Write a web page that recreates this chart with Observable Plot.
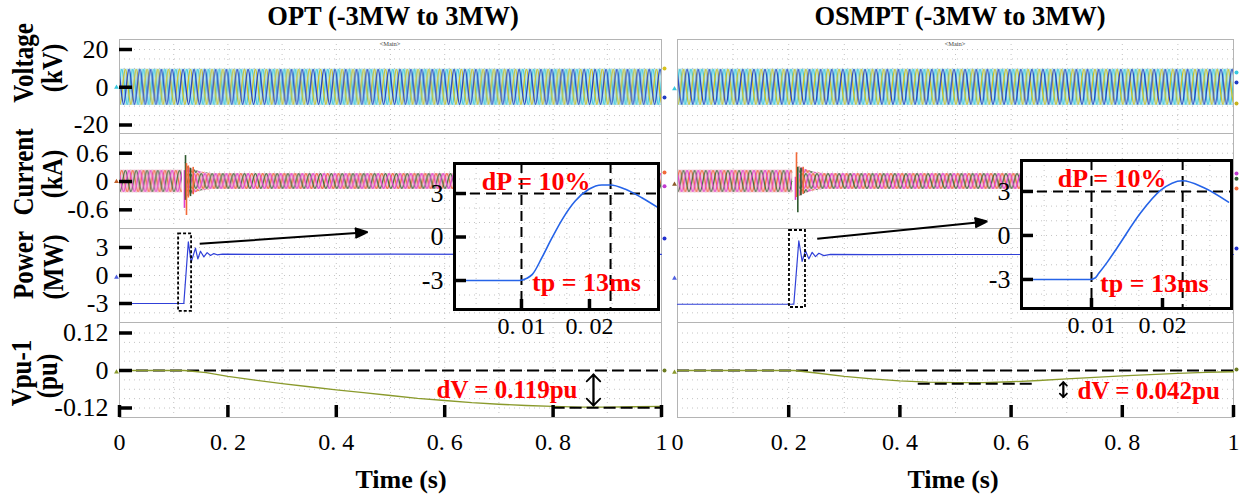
<!DOCTYPE html>
<html>
<head>
<meta charset="utf-8">
<script src="https://cdn.jsdelivr.net/npm/d3@7"></script>
<script src="https://cdn.jsdelivr.net/npm/@observablehq/plot@0.6"></script>
<style>
  html, body { margin: 0; padding: 0; background: #ffffff; }
  #chart { position: relative; width: 1243px; height: 499px; overflow: hidden; background: #fff; }
  #chart svg.abs { position: absolute; }
</style>
</head>
<body>
<div id="chart"></div>
<svg width="0" height="0" style="position:absolute;left:0;top:0"><defs id="patdefs"></defs></svg>
<script>
// ================= DATA =================
const timeTicks = [0, 0.2, 0.4, 0.6, 0.8, 1];
const timeTickText = ["0", "0. 2", "0. 4", "0. 6", "0. 8", "1"];
const timeGrid = [0.1, 0.2, 0.3, 0.4, 0.5, 0.6, 0.7, 0.8, 0.9];

const voltageTicks = [20, 0, -20];
const voltageTickText = ["20", "0", "-20"];
const currentTicks = [0.6, 0, -0.6];
const currentTickText = ["0.6", "0", "-0.6"];
const powerTicks = [3, 0, -3];
const powerTickText = ["3", "0", "-3"];
const vpuTicks = [0.12, 0, -0.12];
const vpuTickText = ["0.12", "0", "-0.12"];

const voltageGrid = [-20, -15, -10, -5, 0, 5, 10, 15, 20];
const currentGrid = [-0.8, -0.6, -0.4, -0.2, 0, 0.2, 0.4, 0.6, 0.8];
const powerGrid = [-4, -3, -2, -1, 0, 1, 2, 3, 4];
const vpuGrid = [-0.12, -0.09, -0.06, -0.03, 0, 0.03, 0.06, 0.09, 0.12];

// three-phase 50 Hz waveforms: envelope (amplitude)
const cyclesPerSecond = 50;
const voltEnvTime = [0, 1];
const voltEnvOPT = [9.6, 9.6];        // kV
const voltEnvOSMPT = [9.6, 9.6];      // kV

const curPreTimeOPT = [0, 0.116];
const curPreAmpOPT = [0.24, 0.24];    // kA
const curPostTimeOPT = [0.125, 0.135, 0.15, 0.17, 1];
const curPostAmpOPT = [0.32, 0.26, 0.2, 0.17, 0.17];
const curPreTimeOSMPT = [0, 0.207];
const curPreAmpOSMPT = [0.24, 0.24];
const curPostTimeOSMPT = [0.219, 0.229, 0.244, 0.262, 1];
const curPostAmpOSMPT = [0.32, 0.26, 0.2, 0.17, 0.17];

// current transient spikes (time, low, high, phase)
const spikeTimeOPT = [0.1199, 0.1218, 0.1236, 0.127, 0.131, 0.136];
const spikeLowOPT = [-0.57, -0.40, -0.72, -0.35, -0.32, -0.28];
const spikeHighOPT = [0.23, 0.55, 0.38, 0.33, 0.28, 0.30];
const spikePhaseOPT = ["a", "c", "b", "b", "c", "b"];
const spikeTimeOSMPT = [0.2122, 0.2140, 0.2164, 0.222, 0.226];
const spikeLowOSMPT = [-0.40, -0.34, -0.66, -0.30, -0.27];
const spikeHighOSMPT = [0.09, 0.61, 0.30, 0.28, 0.30];
const spikePhaseOSMPT = ["a", "b", "c", "c", "b"];

// active power (MW)
const powerTimeOPT = [0, 0.1187, 0.127, 0.1322, 0.1402, 0.1445, 0.1494, 0.1556, 0.1617, 0.1679, 0.174, 0.1802, 0.19, 0.3, 0.5, 0.7, 1];
const powerOPT = [-3, -3, 3.6, 1.42, 2.94, 1.77, 2.6, 2.0, 2.45, 2.15, 2.35, 2.22, 2.28, 2.26, 2.28, 2.27, 2.27];
const powerTimeOSMPT = [0, 0.2092, 0.2182, 0.2242, 0.2302, 0.2362, 0.2422, 0.2482, 0.2542, 0.2632, 0.2752, 0.35, 0.5, 0.7, 1];
const powerOSMPT = [-3.08, -3.08, 3.72, 1.52, 2.66, 1.78, 2.48, 2.02, 2.38, 2.13, 2.27, 2.24, 2.25, 2.25, 2.25];

// zoom-window (dotted box) around the step: [t0, t1, p0, p1]
const zoomBoxOPT = [0.109, 0.133, -3.85, 4.47];
const zoomBoxOSMPT = [0.2014, 0.2302, -3.43, 4.82];
// pointer arrow from box to inset: [t1, p1, t2, p2]
const zoomArrowOPT = [0.148, 3.4, 0.4576, 4.64];
const zoomArrowOSMPT = [0.2513, 3.93, 0.557, 5.79];

// Vpu - 1 (pu)
const vpuTimeOPT = [0, 0.12, 0.16, 0.2, 0.25, 0.3, 0.35, 0.4, 0.45, 0.5, 0.55, 0.6, 0.65, 0.7, 0.75, 0.8, 0.85, 0.9, 0.95, 1];
const vpuOPT = [0, 0, -0.007, -0.019, -0.031, -0.042, -0.052, -0.062, -0.071, -0.080, -0.089, -0.096, -0.103, -0.108, -0.112, -0.115, -0.117, -0.117, -0.116, -0.115];
const vpuTimeOSMPT = [0, 0.21, 0.25, 0.3, 0.35, 0.4, 0.45, 0.5, 0.55, 0.6, 0.65, 0.7, 0.75, 0.8, 0.85, 0.9, 0.95, 1];
const vpuOSMPT = [0, 0, -0.008, -0.019, -0.027, -0.033, -0.037, -0.039, -0.039, -0.036, -0.032, -0.027, -0.022, -0.017, -0.013, -0.009, -0.006, -0.004];

// voltage deviation markers
const dvOPT = {value: -0.119, t1: 0.80, t2: 1.0, arrowT: 0.8745, arrowTop: -0.0128, arrowBottom: -0.112, labelT: 0.845, labelV: -0.0608, text: "dV = 0.119pu"};
const dvOSMPT = {value: -0.042, t1: 0.433, t2: 0.640, arrowT: 0.694, arrowTop: -0.0374, arrowBottom: -0.0854, labelT: 0.7194, labelV: -0.064, text: "dV = 0.042pu"};

// PSCAD trace end markers (value of each trace at the panel edges)
const edgeMarkersOPT = {
  V: {left: [0], right: [9.9, -5.4]},
  I: {left: [0], right: [0.19, -0.1]},
  P: {left: [-0.2], right: [3.96]},
  U: {left: [-0.005], right: [0]}
};
const edgeMarkersOSMPT = {
  V: {left: [-0.8], right: [7.8, 2.5, -8.6]},
  I: {left: [-0.06], right: [0.17, 0.06, -0.15]},
  P: {left: [-0.3], right: [2.9]},
  U: {left: [-0.006], right: [0.003]}
};

// inset (zoom of the power step)
const insetTimeTicks = [0.01, 0.02];
const insetTimeTickText = ["0. 01", "0. 02"];
const insetPowerTicks = [3, 0, -3];
const insetPowerTickText = ["3", "0", "-3"];
const insetGridTime = [0.00333, 0.00667, 0.01, 0.01333, 0.01667, 0.02, 0.02333, 0.02667];
const insetGridPower = [-4, -3, -2, -1, 0, 1, 2, 3, 4];
const insetDPLevel = 3;
const insetTimeOPT = [0.0005, 0.006, 0.0097, 0.0108, 0.0116, 0.0130, 0.0145, 0.0160, 0.0179, 0.0199, 0.0218, 0.0231, 0.0253, 0.0277, 0.0301];
const insetPowerOPT = [-3.0, -3.0, -3.0, -2.85, -2.58, -1.43, -0.05, 1.22, 2.48, 3.29, 3.59, 3.59, 3.29, 2.71, 2.02];
const insetTimeOSMPT = [0.0005, 0.006, 0.0098, 0.0105, 0.0110, 0.01225, 0.01366, 0.0169, 0.01972, 0.02282, 0.02577, 0.0293];
const insetPowerOSMPT = [-3.0, -3.0, -3.0, -2.9, -2.6, -1.8, -0.8, 1.53, 3.07, 3.73, 3.27, 2.27];
const insetPeakTimeOPT = 0.0231;
const insetPeakTimeOSMPT = 0.02284;
const insetLabelsOPT = {dp: {t: 0.01215, p: 3.85, text: "dP = 10%"}, tp: {t: 0.01156, p: -3.12, text: "tp = 13ms"}};
const insetLabelsOSMPT = {dp: {t: 0.0129, p: 3.84, text: "dP = 10%"}, tp: {t: 0.0112, p: -3.29, text: "tp = 13ms"}};

// ================= LAYOUT & STYLE =================
const chart = document.getElementById("chart");
const FONT = "'Liberation Serif', 'Times New Roman', serif";
const STYLE = `background: transparent; overflow: visible; font-family: ${FONT};`;
const COL = {OPT: {x0: 119, x1: 661}, OSMPT: {x0: 677, x1: 1233}};
const ROW = {V: [39, 133], I: [133, 228], P: [228, 322], U: [322, 417]};
const DOM = {V: [-24.5, 25.3], I: [-0.996, 1.018], P: [-5.036, 5.036], U: [-0.1504, 0.1536]};
const FRAME = {stroke: "#b4b4b4", strokeWidth: 1};
const GRID = {stroke: "#c4c4c4", strokeWidth: 1, strokeDasharray: "1,4"};
const TICK = {stroke: "#000", strokeWidth: 3.5};
const DASH = {stroke: "#000", strokeWidth: 2, strokeDasharray: "12,5"};
const IDASH = {stroke: "#000", strokeWidth: 2, strokeDasharray: "10,6"};
const PHASE_I = {a: "#e03ccf", b: "#f26a3a", c: "#2f5a2f"};
const V_COLORS = ["#3cc6dc", "#d2be1e", "#2440c0"];
const I_COLORS = ["#f26a3a", "#3a6e3a", "#e03ccf"];
const MARK_COLORS = {
  OPT: {V: {left: ["#36c8de"], right: ["#d8c21c", "#1f3cc4"]}, I: {left: ["#c0602a"], right: ["#f26a3a", "#c03ad0"]}, P: {left: ["#5060e0"], right: ["#2030d0"]}, U: {left: ["#8a9a2c"], right: ["#6a7a20"]}},
  OSMPT: {V: {left: ["#36c8de"], right: ["#36c8de", "#1f3cc4", "#c8b21c"]}, I: {left: ["#8a5a2a"], right: ["#c03ad0", "#2f5a2f", "#f26a3a"]}, P: {left: ["#5060e0"], right: ["#2030d0"]}, U: {left: ["#8a9a2c"], right: ["#6a7a20"]}}
};
const NS = "http://www.w3.org/2000/svg";
const defs = document.getElementById("patdefs");

function place(svg, left, top) {
  svg.classList.add("abs");
  svg.style.left = left + "px";
  svg.style.top = top + "px";
  chart.appendChild(svg);
}

// decorative texture for the dense 50 Hz traces (pattern tile = one cycle)
function waveTexture(W, H, shift, pad) {
  const q = W / 4, mid = H / 2, A = H / 2 - pad;
  let x = -W + shift;
  let d = `M${x},${mid}`;
  for (let c = 0; c < 3; c++) {
    d += ` C${x + 0.326 * q},${mid - 0.5123 * A} ${x + 0.6376 * q},${mid - A} ${x + q},${mid - A}`; x += q;
    d += ` C${x + 0.3624 * q},${mid - A} ${x + 0.674 * q},${mid - 0.5123 * A} ${x + q},${mid}`; x += q;
    d += ` C${x + 0.326 * q},${mid + 0.5123 * A} ${x + 0.6376 * q},${mid + A} ${x + q},${mid + A}`; x += q;
    d += ` C${x + 0.3624 * q},${mid + A} ${x + 0.674 * q},${mid + 0.5123 * A} ${x + q},${mid}`; x += q;
  }
  return d;
}
function makePattern(id, x, y, w, h, colors, sw) {
  const p = document.createElementNS(NS, "pattern");
  p.setAttribute("id", id);
  p.setAttribute("patternUnits", "userSpaceOnUse");
  p.setAttribute("x", x); p.setAttribute("y", y);
  p.setAttribute("width", w); p.setAttribute("height", h);
  colors.forEach((c, k) => {
    const path = document.createElementNS(NS, "path");
    path.setAttribute("d", waveTexture(w, h, (k * w) / 3, 0.6));
    path.setAttribute("fill", "none");
    path.setAttribute("stroke", c);
    path.setAttribute("stroke-width", sw);
    p.appendChild(path);
  });
  defs.appendChild(p);
}

function panel(colKey, rowKey, marks, ml, mr, patterns) {
  const col = COL[colKey], row = ROW[rowKey], dom = DOM[rowKey];
  const w = col.x1 - col.x0, h = row[1] - row[0];
  const svg = Plot.plot({
    width: ml + w + mr, height: h,
    marginLeft: ml, marginRight: mr, marginTop: 0, marginBottom: 0,
    x: {domain: [0, 1], axis: null},
    y: {domain: dom, axis: null},
    color: {type: "identity"},
    style: STYLE,
    marks
  });
  if (patterns) {
    const py = (v) => ((dom[1] - v) / (dom[1] - dom[0])) * h;
    patterns.forEach(({key, id, amp, colors, sw}) => {
      makePattern(id, ml, py(amp), w / cyclesPerSecond, py(-amp) - py(amp), colors, sw);
      svg.querySelectorAll(`[fill="${key}"]`).forEach((el) => el.setAttribute("fill", `url(#${id})`));
    });
  }
  place(svg, col.x0 - ml, row[0]);
  return svg;
}

function band(times, amps, key, under) {
  const rows = times.map((t, i) => ({t, lo: -amps[i], hi: amps[i]}));
  return [
    Plot.areaY(rows, {x: "t", y1: "lo", y2: "hi", fill: under}),
    Plot.areaY(rows, {x: "t", y1: "lo", y2: "hi", fill: key})
  ];
}

function edgeMarks(colKey, rowKey, markers) {
  const m = markers[rowKey], c = MARK_COLORS[colKey][rowKey];
  const L = m.left.map((v, i) => ({v, c: c.left[i]}));
  const R = m.right.map((v, i) => ({v, c: c.right[i]}));
  return [
    Plot.dot(L, {x: () => 0, y: "v", dx: -3, r: 1.8, fill: "c", stroke: "none", symbol: "triangle"}),
    Plot.dot(R, {x: () => 1, y: "v", dx: 3, r: 2, fill: "c", stroke: "none"})
  ];
}

function yAxisMarks(colKey, ticks, texts) {
  const col = COL[colKey];
  return [
    Plot.ruleY(ticks, {y: (d) => d, x1: 0, x2: 13 / (col.x1 - col.x0), ...TICK}),
    Plot.text(ticks, {y: (d) => d, text: (d, i) => texts[i], frameAnchor: "left", textAnchor: "end", dx: -11, fontSize: 26, fill: "#000"})
  ];
}
function xAxisMarks(tickSet) {
  const dom = DOM.U, row = ROW.U;
  const pxY = (row[1] - row[0]) / (dom[1] - dom[0]);
  return [
    Plot.ruleX(tickSet, {x: (d) => d, y1: dom[0], y2: dom[0] + 12 / pxY, ...TICK}),
    Plot.text(timeTicks, {x: (d) => d, text: (d, i) => timeTickText[i], frameAnchor: "bottom", lineAnchor: "top", dy: 15, fontSize: 24, fill: "#000"})
  ];
}

function column(colKey, d) {
  const left = colKey === "OPT";
  const ml = left ? 119 : 12, mr = 12;
  // ---- Voltage ----
  panel(colKey, "V", [
    Plot.ruleX(timeGrid, GRID), Plot.ruleY(voltageGrid, GRID),
    ...band(voltEnvTime, d.voltEnv, "#fe0001", "#b9e7ee"),
    Plot.frame(FRAME),
    ...edgeMarks(colKey, "V", d.markers),
    ...(left ? yAxisMarks(colKey, voltageTicks, voltageTickText) : [])
  ], ml, mr, [{key: "#fe0001", id: "pv" + colKey, amp: d.voltEnv[0], colors: V_COLORS, sw: 1.35}]);
  // ---- Current ----
  const spikes = d.spikeTime.map((t, i) => ({t, lo: d.spikeLow[i], hi: d.spikeHigh[i], c: PHASE_I[d.spikePhase[i]]}));
  panel(colKey, "I", [
    Plot.ruleX(timeGrid, GRID), Plot.ruleY(currentGrid, GRID),
    ...band(d.curPreTime, d.curPreAmp, "#fe0002", "#f3c6d6"),
    ...band(d.curPostTime, d.curPostAmp, "#fe0003", "#f3c6d6"),
    Plot.ruleX(spikes, {x: "t", y1: "lo", y2: "hi", stroke: "c", strokeWidth: 1.6}),
    Plot.frame(FRAME),
    ...edgeMarks(colKey, "I", d.markers),
    ...(left ? yAxisMarks(colKey, currentTicks, currentTickText) : [])
  ], ml, mr, [
    {key: "#fe0002", id: "pipre" + colKey, amp: d.curPreAmp[0], colors: I_COLORS, sw: 1.2},
    {key: "#fe0003", id: "pipost" + colKey, amp: d.curPostAmp[d.curPostAmp.length - 1], colors: I_COLORS, sw: 1.2}
  ]);
  // ---- Power ----
  const pw = d.powerTime.map((t, i) => ({t, p: d.power[i]}));
  const b = d.zoomBox, a = d.zoomArrow;
  panel(colKey, "P", [
    Plot.ruleX(timeGrid, GRID), Plot.ruleY(powerGrid, GRID),
    Plot.frame(FRAME),
    Plot.line(pw, {x: "t", y: "p", stroke: "#3040d8", strokeWidth: 1.2}),
    Plot.rect([b], {x1: (r) => r[0], x2: (r) => r[1], y1: (r) => r[2], y2: (r) => r[3], fill: "none", stroke: "#000", strokeWidth: 1.8, strokeDasharray: "3,2"}),
    Plot.arrow([a], {x1: (r) => r[0], y1: (r) => r[1], x2: (r) => r[2], y2: (r) => r[3], stroke: "#000", fill: "#000", strokeWidth: 2, headLength: 10, headAngle: 42, strokeLinecap: "butt"}),
    ...edgeMarks(colKey, "P", d.markers),
    ...(left ? yAxisMarks(colKey, powerTicks, powerTickText) : [])
  ], ml, mr);
  // ---- Vpu-1 ----
  const vp = d.vpuTime.map((t, i) => ({t, v: d.vpu[i]}));
  const dv = d.dv;
  panel(colKey, "U", [
    Plot.ruleX(timeGrid, GRID), Plot.ruleY(vpuGrid, GRID),
    Plot.frame(FRAME),
    Plot.ruleY([0], DASH),
    Plot.line(vp, {x: "t", y: "v", stroke: "#8a9a2c", strokeWidth: 1.3}),
    Plot.ruleY([dv.value], {x1: dv.t1, x2: dv.t2, ...DASH}),
    Plot.arrow([dv], {x1: "arrowT", x2: "arrowT", y1: "arrowBottom", y2: "arrowTop", stroke: "#000", strokeWidth: 1.8, headLength: 8, headAngle: 90}),
    Plot.arrow([dv], {x1: "arrowT", x2: "arrowT", y1: "arrowTop", y2: "arrowBottom", stroke: "#000", strokeWidth: 1.8, headLength: 8, headAngle: 90}),
    Plot.text([dv], {x: "labelT", y: "labelV", text: "text", textAnchor: left ? "end" : "start", fill: "#ff0000", fontWeight: "bold", fontSize: 25}),
    ...edgeMarks(colKey, "U", d.markers),
    ...xAxisMarks(left ? timeTicks : timeTicks.slice(1)),
    ...(left ? yAxisMarks(colKey, vpuTicks, vpuTickText) : [])
  ], ml, mr);
}

function inset(cfg) {
  const ml = 50, mr = 8, mt = 8, mb = 36;
  const w = cfg.bx1 - cfg.bx0, h = cfg.by1 - cfg.by0;
  const pxX = w / (cfg.xDom[1] - cfg.xDom[0]);
  const pxY = h / (cfg.yDom[1] - cfg.yDom[0]);
  const rows = cfg.time.map((t, i) => ({t, p: cfg.power[i]}));
  const svg = Plot.plot({
    width: ml + w + mr, height: mt + h + mb,
    marginLeft: ml, marginRight: mr, marginTop: mt, marginBottom: mb,
    x: {domain: cfg.xDom, axis: null},
    y: {domain: cfg.yDom, axis: null},
    style: STYLE,
    marks: [
      Plot.frame({fill: "#fff", stroke: "none"}),
      Plot.ruleX(insetGridTime, GRID),
      Plot.ruleY(insetGridPower, GRID),
      Plot.ruleY([insetDPLevel], IDASH),
      Plot.ruleX([insetTimeTicks[0], cfg.peakT], IDASH),
      Plot.line(rows, {x: "t", y: "p", stroke: "#2563e8", strokeWidth: 1.6, curve: "monotone-x"}),
      Plot.ruleY(insetPowerTicks, {y: (d) => d, x1: cfg.xDom[0], x2: cfg.xDom[0] + 12 / pxX, ...TICK}),
      Plot.ruleX(insetTimeTicks, {x: (d) => d, y1: cfg.yDom[0], y2: cfg.yDom[0] + 10 / pxY, ...TICK}),
      Plot.frame({stroke: "#000", strokeWidth: 3}),
      Plot.text(insetPowerTicks, {y: (d) => d, text: (d, i) => insetPowerTickText[i], frameAnchor: "left", textAnchor: "end", dx: -11, fontSize: 26, fill: "#000"}),
      Plot.text(insetTimeTicks, {x: (d) => d, text: (d, i) => insetTimeTickText[i], frameAnchor: "bottom", lineAnchor: "top", dy: 7, fontSize: 24, fill: "#000"}),
      Plot.text([cfg.labels.dp], {x: "t", y: "p", text: "text", textAnchor: "middle", fill: "#ff0000", fontWeight: "bold", fontSize: 26}),
      Plot.text([cfg.labels.tp], {x: "t", y: "p", text: "text", textAnchor: "start", fill: "#ff0000", fontWeight: "bold", fontSize: 26})
    ]
  });
  place(svg, cfg.bx0 - ml, cfg.by0 - mt);
}

column("OPT", {
  voltEnv: voltEnvOPT,
  curPreTime: curPreTimeOPT, curPreAmp: curPreAmpOPT, curPostTime: curPostTimeOPT, curPostAmp: curPostAmpOPT,
  spikeTime: spikeTimeOPT, spikeLow: spikeLowOPT, spikeHigh: spikeHighOPT, spikePhase: spikePhaseOPT,
  powerTime: powerTimeOPT, power: powerOPT, zoomBox: zoomBoxOPT, zoomArrow: zoomArrowOPT,
  vpuTime: vpuTimeOPT, vpu: vpuOPT, dv: dvOPT, markers: edgeMarkersOPT
});
column("OSMPT", {
  voltEnv: voltEnvOSMPT,
  curPreTime: curPreTimeOSMPT, curPreAmp: curPreAmpOSMPT, curPostTime: curPostTimeOSMPT, curPostAmp: curPostAmpOSMPT,
  spikeTime: spikeTimeOSMPT, spikeLow: spikeLowOSMPT, spikeHigh: spikeHighOSMPT, spikePhase: spikePhaseOSMPT,
  powerTime: powerTimeOSMPT, power: powerOSMPT, zoomBox: zoomBoxOSMPT, zoomArrow: zoomArrowOSMPT,
  vpuTime: vpuTimeOSMPT, vpu: vpuOSMPT, dv: dvOSMPT, markers: edgeMarkersOSMPT
});
inset({bx0: 454, bx1: 658, by0: 163, by1: 309, xDom: [0.00015, 0.03015], yDom: [-5.0, 5.07],
  time: insetTimeOPT, power: insetPowerOPT, peakT: insetPeakTimeOPT, labels: insetLabelsOPT});
inset({bx0: 1021, bx1: 1231, by0: 160, by1: 308, xDom: [0.00014, 0.02972], yDom: [-4.98, 5.11],
  time: insetTimeOSMPT, power: insetPowerOSMPT, peakT: insetPeakTimeOSMPT, labels: insetLabelsOSMPT});

// ================= TEXT OVERLAY =================
const over = d3.create("svg").attr("width", 1243).attr("height", 499)
  .attr("class", "abs").style("left", "0px").style("top", "0px")
  .style("font-family", FONT).style("overflow", "visible");
[["OPT (-3MW to 3MW)", 393], ["OSMPT (-3MW to 3MW)", 960]].forEach(([t, x]) =>
  over.append("text").attr("x", x).attr("y", 25).attr("text-anchor", "middle")
    .attr("font-size", 26.5).attr("font-weight", "bold").text(t));
[401, 953].forEach((x) =>
  over.append("text").attr("x", x).attr("y", 488).attr("text-anchor", "middle")
    .attr("font-size", 26).attr("font-weight", "bold").text("Time (s)"));
[390, 955].forEach((x) =>
  over.append("text").attr("x", x).attr("y", 46).attr("text-anchor", "middle")
    .attr("font-size", 6.5).attr("fill", "#444").text("<Main>"));
const yLabels = [
  ["Voltage", 33, 63], ["(kV)", 62, 68],
  ["Current", 33, 172], ["(kA)", 62, 174],
  ["Power", 33, 265], ["(MW)", 63, 267],
  ["Vpu-1", 31, 373], ["(pu)", 57, 376]
];
yLabels.forEach(([t, bx, cy]) =>
  over.append("text").attr("transform", `translate(${bx},${cy}) rotate(-90) scale(1,1.2)`)
    .attr("text-anchor", "middle").attr("font-size", 25).attr("font-weight", "bold").text(t));
chart.appendChild(over.node());
</script>
</body>
</html>
